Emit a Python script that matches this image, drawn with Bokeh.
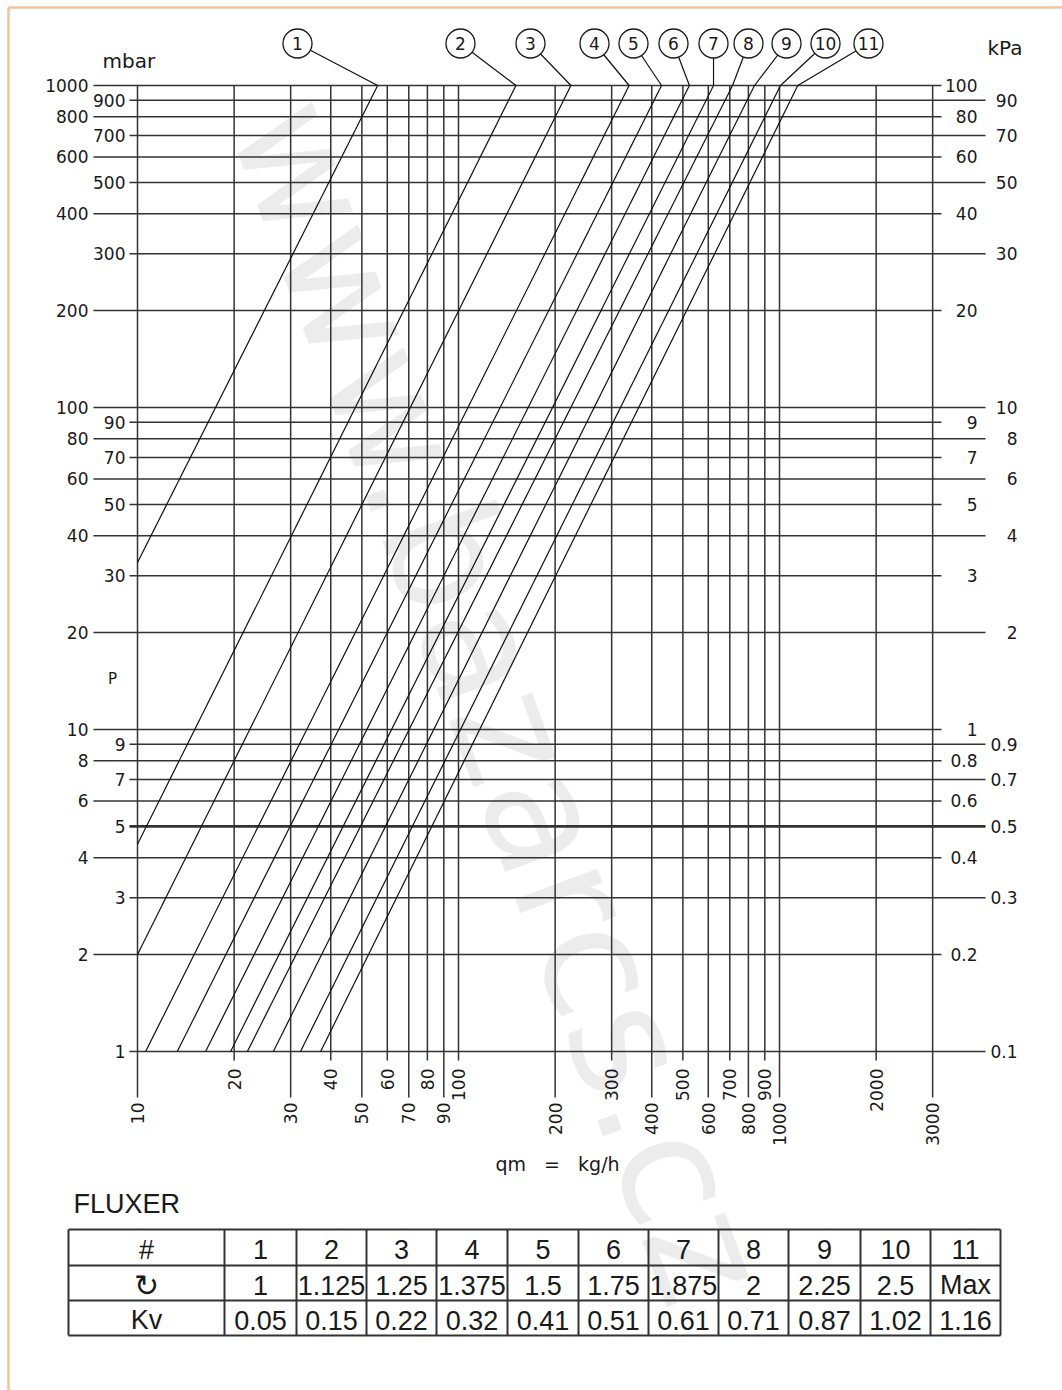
import math
from bokeh.plotting import figure
from bokeh.models import Range1d
from bokeh.core.properties import value
from bokeh.embed import file_html
from bokeh.resources import INLINE

# ---------------- data ----------------
curve_labels = ["1", "2", "3", "4", "5", "6", "7", "8", "9", "10", "11"]
# upper end of each curve: flow (kg/h) at 1000 mbar
curve_q_top = [56, 151, 224, 340, 429, 524, 623, 714, 836, 1007, 1140]
curve_p_top = [1000, 1000, 1000, 1000, 1000, 1000, 1000, 1000, 1000, 1000, 1000]
# lower end of each curve: flow (kg/h) and pressure (mbar)
curve_q_low = [10, 10, 10, 10.6, 13.3, 16.3, 19.5, 22.0, 26.5, 32.2, 37.2]
curve_p_low = [33, 4.4, 2.0, 1, 1, 1, 1, 1, 1, 1, 1]

x_ticks = [10, 20, 30, 40, 50, 60, 70, 80, 90, 100,
           200, 300, 400, 500, 600, 700, 800, 900, 1000, 2000, 3000]
x_tick_labels = ["10", "20", "30", "40", "50", "60", "70", "80", "90", "100",
                 "200", "300", "400", "500", "600", "700", "800", "900", "1000", "2000", "3000"]

y_ticks = [1, 2, 3, 4, 5, 6, 7, 8, 9, 10, 20, 30, 40, 50, 60, 70, 80, 90,
           100, 200, 300, 400, 500, 600, 700, 800, 900, 1000]
y_labels_mbar = ["1", "2", "3", "4", "5", "6", "7", "8", "9", "10", "20", "30", "40", "50",
                 "60", "70", "80", "90", "100", "200", "300", "400", "500", "600", "700",
                 "800", "900", "1000"]
y_labels_kpa = ["0.1", "0.2", "0.3", "0.4", "0.5", "0.6", "0.7", "0.8", "0.9", "1", "2", "3",
                "4", "5", "6", "7", "8", "9", "10", "20", "30", "40", "50", "60", "70", "80",
                "90", "100"]

table_numbers = ["1", "2", "3", "4", "5", "6", "7", "8", "9", "10", "11"]
table_turns = ["1", "1.125", "1.25", "1.375", "1.5", "1.75", "1.875", "2", "2.25", "2.5", "Max"]
table_kv = ["0.05", "0.15", "0.22", "0.32", "0.41", "0.51", "0.61", "0.71", "0.87", "1.02", "1.16"]

# ---------------- layout / style ----------------
# long/short tick lines (style only)
x_long = [i % 2 == 0 for i in range(len(x_ticks))]
y_left_long = [False, True, False, True, False, True, False, True, False, True,
               True, False, True, False, True, False, True, False, True,
               True, False, True, False, True, False, True, False, True]
y_right_long = [True, False, True, False, True, False, True, False, True, False,
                True, False, True, False, True, False, True, False, True,
                False, True, False, True, False, True, False, True, False]

W, H = 1062, 1390
X0_PX, X_DEC = 137.0, 321.0   # pixel of 10 kg/h, pixels per decade
Y0_PX, Y_DEC = 85.0, 322.0    # pixel of 1000 mbar, pixels per decade


def qx(px):
    return 10 ** (1 + (px - X0_PX) / X_DEC)


def py(px):
    return 10 ** (3 - (px - Y0_PX) / Y_DEC)


FONT = value("DejaVu Sans")
TFONT = value("Liberation Sans")
INK = "#1a1a1a"
GRID = "#333333"
NB = "\u00a0"

p = figure(width=W, height=H, x_axis_type="log", y_axis_type="log",
           x_axis_location=None, y_axis_location=None,
           x_range=Range1d(qx(0), qx(W)), y_range=Range1d(py(H), py(0)),
           toolbar_location=None, output_backend="svg", min_border=0,
           outline_line_color=None, background_fill_color="white",
           border_fill_color="white")
p.grid.visible = False

# watermark
p.text(x=[qx(500)], y=[py(700)], text=["www.bazarcs.cz"], angle=-1.215,
       text_font=FONT, text_font_size="160px", text_color="#ececec",
       text_align="center", text_baseline="middle")

# page frame (orange)
p.segment(x0=[qx(8), qx(8)], y0=[py(7), py(7)], x1=[qx(W), qx(8)], y1=[py(7), py(H)],
          line_color="#f6c29a", line_width=2.5)

# horizontal grid lines
hx0 = [qx(93) if L else qx(129) for L in y_left_long]
hx1 = [qx(985) if R else qx(941) for R in y_right_long]
hw = [2.8 if v == 5 else 1.5 for v in y_ticks]
p.segment(x0=hx0, y0=y_ticks, x1=hx1, y1=y_ticks, line_color=GRID, line_width=hw)

# vertical grid lines
vy1 = [py(1097) if L else py(1060) for L in x_long]
p.segment(x0=x_ticks, y0=[1000] * len(x_ticks), x1=x_ticks, y1=vy1,
          line_color=GRID, line_width=1.5)

# curves
p.segment(x0=curve_q_low, y0=curve_p_low, x1=curve_q_top, y1=curve_p_top,
          line_color="#111111", line_width=1.2)

# curve labels with leaders
label_px = [297, 460, 530, 594, 633, 673, 713, 748, 786, 825, 868]
label_x = [qx(v) for v in label_px]
label_y = [py(43)] * len(label_px)
p.segment(x0=label_x, y0=label_y, x1=curve_q_top, y1=curve_p_top,
          line_color="#111111", line_width=1.2)
p.scatter(x=label_x, y=label_y, marker="circle", size=29, fill_color="white",
          line_color=INK, line_width=1.3)
p.text(x=label_x, y=label_y, text=curve_labels, text_font=FONT, text_font_size="17px",
       text_color=INK, text_align="center", text_baseline="middle")

# left (mbar) labels
p.text(x=[qx(88) if L else qx(125) for L in y_left_long], y=y_ticks, text=y_labels_mbar,
       text_font=FONT, text_font_size="17px", text_color=INK,
       text_align="right", text_baseline="middle")
# right (kPa) labels
p.text(x=[qx(1017) if R else qx(977) for R in y_right_long], y=y_ticks, text=y_labels_kpa,
       text_font=FONT, text_font_size="17px", text_color=INK,
       text_align="right", text_baseline="middle")
# bottom (kg/h) labels
p.text(x=x_ticks, y=[py(1102) if L else py(1068) for L in x_long], text=x_tick_labels,
       angle=math.pi / 2, text_font=FONT, text_font_size="17px", text_color=INK,
       text_align="right", text_baseline="middle")

# axis titles
p.text(x=[qx(102), qx(987)], y=[py(60), py(47)], text=["mbar", "kPa"],
       text_font=FONT, text_font_size="20px", text_color=INK,
       text_align="left", text_baseline="middle")
p.text(x=[qx(112)], y=[py(678)], text=["P"], text_font=FONT, text_font_size="15px",
       text_color=INK, text_align="center", text_baseline="middle")
p.text(x=[qx(557)], y=[py(1163)], text=["qm" + NB * 3 + "=" + NB * 3 + "kg/h"], text_font=FONT,
       text_font_size="19px", text_color=INK, text_align="center", text_baseline="middle")

# ---------------- table ----------------
p.text(x=[qx(73)], y=[py(1203)], text=["FLUXER"], text_font=TFONT, text_font_size="27px",
       text_color=INK, text_align="left", text_baseline="middle")

col_px = [68, 224, 296, 366, 436, 507, 578, 648, 718, 788, 860, 930, 1000]
row_px = [1229, 1265, 1300, 1335]
p.segment(x0=[qx(col_px[0])] * len(row_px), y0=[py(r) for r in row_px],
          x1=[qx(col_px[-1])] * len(row_px), y1=[py(r) for r in row_px],
          line_color="#333333", line_width=2)
p.segment(x0=[qx(c) for c in col_px], y0=[py(row_px[0])] * len(col_px),
          x1=[qx(c) for c in col_px], y1=[py(row_px[-1])] * len(col_px),
          line_color="#333333", line_width=2)

col_mid = [qx((col_px[i] + col_px[i + 1]) / 2) for i in range(len(col_px) - 1)]
row_mid = [py((row_px[i] + row_px[i + 1]) / 2 + 2) for i in range(len(row_px) - 1)]

rows = [table_numbers, table_turns, table_kv]
for r, vals in enumerate(rows):
    p.text(x=col_mid[1:], y=[row_mid[r]] * len(vals), text=vals, text_font=TFONT,
           text_font_size="27px", text_color=INK, text_align="center",
           text_baseline="middle")
p.text(x=[col_mid[0], col_mid[0]], y=[row_mid[0], row_mid[2]], text=["#", "Kv"],
       text_font=TFONT, text_font_size="27px", text_color=INK,
       text_align="center", text_baseline="middle")
p.text(x=[col_mid[0]], y=[row_mid[1]], text=["↻"], text_font=FONT,
       text_font_size="30px", text_color=INK, text_align="center", text_baseline="middle")

open("out.html", "w").write(file_html(p, INLINE))
